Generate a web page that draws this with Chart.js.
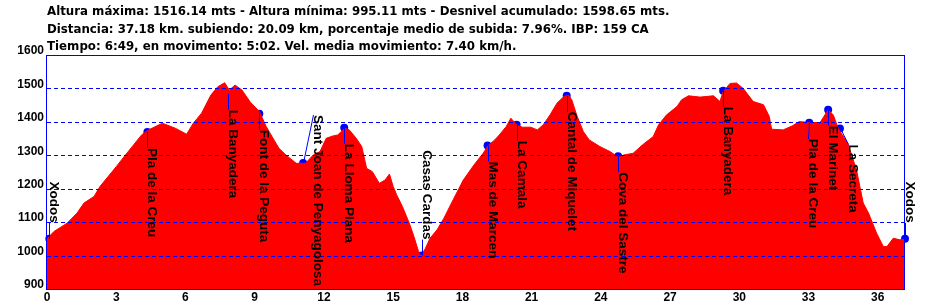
<!DOCTYPE html>
<html>
<head>
<meta charset="utf-8">
<script src="https://cdn.jsdelivr.net/npm/chart.js@4.4.1/dist/chart.umd.min.js"></script>
<style>
  html, body { margin: 0; padding: 0; background: #fff; }
  #wrap { position: relative; width: 928px; height: 304px; }
</style>
</head>
<body>
<div id="wrap"><canvas id="profile" width="928" height="304"></canvas></div>
<script>
// ===== DATA =====
const distKm = [
  0.0, 0.3, 0.87, 1.3, 1.6, 2.04, 2.3, 3.0, 3.4, 4.1, 4.4, 5.0, 5.56, 6.05, 6.34,
  6.7, 7.1, 7.4, 7.7, 7.9, 8.15, 8.45, 8.8, 9.2, 9.5, 9.75, 10.05, 10.35, 10.8,
  11.2, 11.54, 11.83, 12.1, 12.4, 12.6, 12.9, 13.1, 13.4, 13.64, 13.85, 14.1,
  14.4, 14.65, 14.84, 15.0, 15.15, 15.4, 15.7, 15.9, 16.1, 16.2, 16.4, 16.6,
  16.9, 17.2, 17.6, 18.04, 18.5, 18.9, 19.1, 19.4, 19.6, 19.9, 20.1, 20.35,
  20.6, 20.96, 21.25, 21.5, 21.8, 22.1, 22.4, 22.6, 22.74, 22.95, 23.24, 23.5,
  23.96, 24.4, 24.75, 25.0, 25.4, 25.8, 26.27, 26.5, 26.85, 27.3, 27.5, 27.8,
  28.3, 28.88, 29.16, 29.3, 29.6, 29.88, 30.17, 30.6, 31.05, 31.3, 31.4, 31.9,
  32.3, 32.6, 33.0, 33.5, 33.85, 34.07, 34.3, 34.7, 35.08, 35.37, 35.6, 35.95,
  36.24, 36.4, 36.67, 36.96, 37.18
];
const elevM = [
  1050, 1072, 1097, 1127, 1157, 1177, 1207, 1266, 1301, 1361, 1376, 1396, 1381, 1363, 1396,
  1426, 1480, 1505, 1517, 1495, 1510, 1495, 1460, 1431, 1386, 1356, 1321, 1301, 1276,
  1276, 1301, 1311, 1351, 1358, 1361, 1381, 1376, 1351, 1326, 1261, 1251,
  1216, 1226, 1244, 1207, 1182, 1147, 1097, 1057, 1012, 997, 1022, 1052,
  1077, 1112, 1167, 1226, 1271, 1306, 1328, 1346, 1361, 1386, 1411, 1391,
  1384, 1384, 1376, 1391, 1421, 1456, 1476, 1480, 1466, 1421, 1371, 1346,
  1326, 1311, 1294, 1301, 1306, 1331, 1356, 1391, 1421, 1446, 1466, 1478,
  1474, 1478, 1461, 1490, 1515, 1516, 1500, 1461, 1451, 1416, 1378, 1376,
  1388, 1401, 1398, 1398, 1436, 1421, 1378, 1336, 1256, 1157, 1127, 1067,
  1027, 1027, 1052, 1047, 1049
];

// waypoints
const wpNames = [
  "Xodos", "Pla de la Creu", "La Banyadera", "Font de la Peguta",
  "Sant Joan de Penyagolosa", "La Lloma Plana", "Casas Cardas", "Mas de Marcen",
  "La Camala", "Cantal de Miquelet", "Cova del Sastre", "La Banyadera",
  "Pla de la Creu", "El Marinet", "La Secreta", "Xodos"
];
const wpKm = [0.1, 4.35, 7.86, 9.2, 11.1, 12.88, 16.23, 19.09, 20.35, 22.52, 24.75, 29.3, 33.03, 33.85, 34.36, 37.18];
const wpElev = [1050, 1370, 1484, 1424, 1277, 1382, 1000, 1329, 1391, 1478, 1297, 1493, 1397, 1436, 1380, 1050];

const xTickValues = [0, 3, 6, 9, 12, 15, 18, 21, 24, 27, 30, 33, 36];
const yTickValues = [900, 1000, 1100, 1200, 1300, 1400, 1500, 1600];

const titleLines = [
  "Altura máxima: 1516.14 mts - Altura mínima: 995.11 mts - Desnivel acumulado: 1598.65 mts.",
  "Distancia: 37.18 km. subiendo: 20.09 km, porcentaje medio de subida: 7.96%. IBP: 159 CA",
  "Tiempo: 6:49, en movimento: 5:02. Vel. media movimiento: 7.40 km/h."
];

// ===== LABEL PLACEMENT (pixels, style only) =====
const wpLabelPos = [
  { side: "above" },
  { side: "below" },
  { side: "below" },
  { side: "below" },
  { side: "below", dx: 10, dy: -48 },
  { side: "below" },
  { side: "above" },
  { side: "below" },
  { side: "below" },
  { side: "below" },
  { side: "below" },
  { side: "below" },
  { side: "below", dx: -1 },
  { side: "below" },
  { side: "below", dx: 8 },
  { side: "above" }
];

const BLUE = "#0000ff";
const RED = "#ff0000";
const TICK_FONT = { family: "'Liberation Sans', Arial, sans-serif", size: 12, weight: "bold" };

// ===== PLUGIN =====
const profileDecor = {
  id: "profileDecor",
  beforeDraw(chart) {
    const ctx = chart.ctx;
    ctx.save();
    ctx.fillStyle = "#ffffff";
    ctx.fillRect(0, 0, chart.width, chart.height);
    ctx.restore();
  },
  afterDatasetDraw(chart, args) {
    if (args.index !== 0) return;
    const { ctx, chartArea: a, scales: { x, y } } = chart;
    ctx.save();
    // dashed grid over the area
    ctx.strokeStyle = BLUE;
    ctx.lineWidth = 1;
    ctx.setLineDash([4, 3]);
    yTickValues.forEach((v) => {
      if (v <= y.min || v >= y.max) return;
      const py = Math.round(y.getPixelForValue(v)) + 0.5;
      ctx.beginPath();
      ctx.moveTo(a.left, py);
      ctx.lineTo(a.right, py);
      ctx.stroke();
    });
    ctx.setLineDash([]);
    // connector lines from waypoint to its label
    wpNames.forEach((name, i) => {
      const p = wpLabelPos[i];
      const gap = 16;
      const mx = x.getPixelForValue(wpKm[i]);
      const my = y.getPixelForValue(wpElev[i]);
      const lx = mx + (p.dx || 0);
      const ly = p.side === "above" ? my - gap : my + (p.dy !== undefined ? p.dy : gap);
      ctx.beginPath();
      ctx.moveTo(Math.round(mx) + 0.5, my);
      ctx.lineTo(Math.round(lx) + 0.5, ly);
      ctx.stroke();
    });
    ctx.restore();
  },
  afterDraw(chart) {
    const { ctx, chartArea: a, scales: { x, y } } = chart;
    ctx.save();
    // frame
    ctx.strokeStyle = BLUE;
    ctx.lineWidth = 1;
    ctx.strokeRect(a.left - 0.5, a.top + 0.5, a.right - a.left, a.bottom - a.top);

    // waypoint labels, rotated to read top-down
    ctx.fillStyle = "#000000";
    ctx.font = "bold 13.5px 'Liberation Sans', Arial, sans-serif";
    ctx.textBaseline = "alphabetic";
    wpNames.forEach((name, i) => {
      const p = wpLabelPos[i];
      const gap = 16;
      const mx = x.getPixelForValue(wpKm[i]);
      const my = y.getPixelForValue(wpElev[i]);
      const lx = mx + (p.dx || 0) + 1;
      let ly;
      if (p.side === "above") {
        ly = my - gap;
        ctx.textAlign = "right";
      } else {
        ly = my + (p.dy !== undefined ? p.dy : gap);
        ctx.textAlign = "left";
      }
      ctx.save();
      ctx.translate(lx, ly);
      ctx.rotate(Math.PI / 2);
      ctx.fillText(name, 0, 0);
      ctx.restore();
    });

    // title block
    ctx.textAlign = "left";
    ctx.font = "bold 11.8px 'DejaVu Sans', sans-serif";
    const ty = [15, 33.3, 49.5];
    titleLines.forEach((t, i) => ctx.fillText(t, 47, ty[i]));
    ctx.restore();
  }
};

// ===== CHART =====
const profilePoints = distKm.map((d, i) => ({ x: d, y: elevM[i] }));
const wpPoints = wpKm.map((d, i) => ({ x: d, y: wpElev[i] }));

new Chart(document.getElementById("profile").getContext("2d"), {
  type: "line",
  data: {
    datasets: [
      {
        data: profilePoints,
        borderColor: RED,
        backgroundColor: RED,
        borderWidth: 1,
        pointRadius: 0,
        tension: 0,
        fill: "start"
      },
      {
        data: wpPoints,
        showLine: false,
        pointRadius: 4,
        pointBackgroundColor: BLUE,
        pointBorderWidth: 0,
        clip: false
      }
    ]
  },
  options: {
    responsive: false,
    animation: false,
    devicePixelRatio: 1,
    layout: { padding: { left: 0, top: 55, right: 23, bottom: 0 } },
    plugins: {
      legend: { display: false },
      tooltip: { enabled: false }
    },
    scales: {
      x: {
        type: "linear",
        min: 0,
        max: 37.18,
        afterBuildTicks: (scale) => { scale.ticks = xTickValues.map((v) => ({ value: v })); },
        afterFit: (scale) => { scale.height = 15; },
        grid: { display: false, drawTicks: false },
        border: { display: false },
        ticks: {
          autoSkip: false,
          maxRotation: 0,
          padding: 1,
          color: "#000",
          font: TICK_FONT,
          callback: (v) => String(v)
        }
      },
      y: {
        min: 900,
        max: 1600,
        afterBuildTicks: (scale) => { scale.ticks = yTickValues.map((v) => ({ value: v })); },
        afterFit: (scale) => { scale.width = 47; },
        grid: { display: false, drawTicks: false },
        border: { display: false },
        ticks: {
          padding: 3,
          labelOffset: -4,
          color: "#000",
          font: TICK_FONT,
          callback: (v) => String(v)
        }
      }
    }
  },
  plugins: [profileDecor]
});
</script>
</body>
</html>
